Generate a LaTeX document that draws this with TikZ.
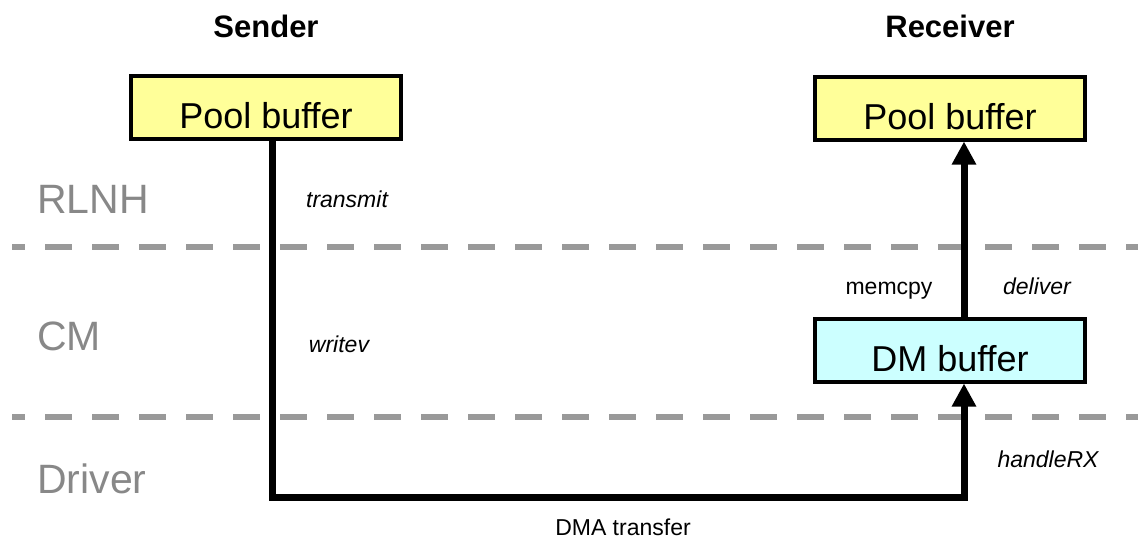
\documentclass[tikz,border=0pt]{standalone}
\usepackage{fontspec}
\setmainfont{Liberation Sans}
\usetikzlibrary{arrows.meta}
\definecolor{layergray}{HTML}{888888}
\definecolor{sepgray}{HTML}{999999}
\definecolor{poolfill}{HTML}{FFFF99}
\definecolor{dmfill}{HTML}{CCFFFF}
\begin{document}
\begin{tikzpicture}[x=1pt,y=-1pt,
  buf/.style={draw=black, line width=4pt, minimum width=270pt, minimum height=63pt,
    inner sep=0pt, text height=42pt, text depth=0pt, font=\fontsize{36}{40}\selectfont},
  layer/.style={text=layergray, font=\fontsize{41}{45}\selectfont, anchor=base west, inner sep=0pt},
  side/.style={font=\fontsize{31}{35}\selectfont\bfseries, anchor=base, inner sep=0pt},
  call/.style={font=\fontsize{23}{26}\selectfont\itshape, anchor=base, inner sep=0pt},
  note/.style={font=\fontsize{23}{26}\selectfont, anchor=base, inner sep=0pt},
  sepline/.style={draw=sepgray, line width=6pt, dash pattern=on 27pt off 20pt, dash phase=14pt},
  wire/.style={draw=black, line width=7pt, line join=miter},
  flow/.style={wire, -{Triangle[width=23pt,length=23pt]}},
]
\useasboundingbox (0,0) rectangle (1138,539);

% layer separators
\draw[sepline] (12,247) -- (1138,247);
\draw[sepline] (12,417) -- (1138,417);

% layer names
\node[layer] (rlnh) at (37,213) {RLNH};
\node[layer] (cm) at (37,350) {CM};
\node[layer] (drv) at (37,493) {Driver};

% column headings
\node[side] (sender) at (266,37) {Sender};
\node[side] (receiver) at (950,37) {Receiver};

% buffers
\node[buf, fill=poolfill] (spool) at (266,107.5) {Pool buffer};
\node[buf, fill=poolfill] (rpool) at (950,108) {Pool buffer};
\node[buf, fill=dmfill] (dm) at (950,350) {DM buffer};

% data path
\coordinate (dl) at (272,497);
\coordinate (dr) at (964,497);
\draw[flow] (spool.south -| dl) -- (dl) -- (dr) -- (dm.south -| dr);
\draw[flow] (dm.north -| dr) -- (rpool.south -| dr);

% call labels
\node[call] (transmit) at (347,207) {transmit};
\node[call] (writev) at (339,352) {writev};
\node[note] (memcpy) at (889,294) {memcpy};
\node[call] (deliver) at (1037,294) {deliver};
\node[call] (handlerx) at (1048,467) {handleRX};
\node[note] (dma) at (623,535) {DMA transfer};
\end{tikzpicture}
\end{document}
